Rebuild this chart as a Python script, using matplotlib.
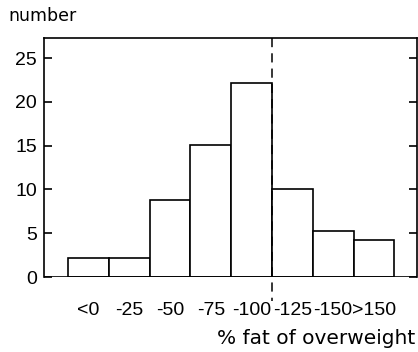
import numpy as np
import matplotlib
matplotlib.use("Agg")
import matplotlib.pyplot as plt

# ---- data ----
categories = ["<0", "-25", "-50", "-75", "-100", "-125", "-150", ">150"]
counts = [2.2, 2.2, 8.8, 15.1, 22.2, 10.1, 5.2, 4.2]
yticks = [0, 5, 10, 15, 20, 25]
split_at = 4.5   # dashed line between -100 and -125

plt.rcParams['font.family'] = ['Liberation Sans', 'DejaVu Sans']

fig = plt.figure(figsize=(4.18, 3.52), dpi=100)
ax = fig.add_axes([44/418, 1 - 277/352, (418 - 44)/418 - 0.002, (277 - 38)/352])

x = np.arange(len(categories))
ax.bar(x, counts, width=1.0, facecolor='white', edgecolor='black', linewidth=1.2)

ax.set_xlim(-1.09, 8.06)
ax.set_ylim(0, 27.3)

# dashed separator, runs from frame top to below the baseline
ax.plot([split_at, split_at], [27.3, -2.7], color='black', linestyle=(0, (6, 4)),
        linewidth=1.1, clip_on=False)

for s in ax.spines.values():
    s.set_linewidth(1.2)
ax.spines['bottom'].set_visible(False)
ax.axhline(0, color='black', linewidth=1.2)

ax.set_yticks(yticks)
ax.tick_params(axis='y', direction='in', length=6, width=1.2, right=True,
               labelsize=14, pad=5)
ax.set_xticks(x)
ax.set_xticklabels(categories)
ax.tick_params(axis='x', length=0, labelsize=14, pad=18)

fig.text(8/418, 1 - 16/352, "number", fontsize=12.5, va='center', ha='left',
         family='DejaVu Sans')
fig.text(415/418, 1 - 339/352, "% fat of overweight", fontsize=14.5,
         va='center', ha='right', family='DejaVu Sans')

fig.savefig("out.png", dpi=100)
